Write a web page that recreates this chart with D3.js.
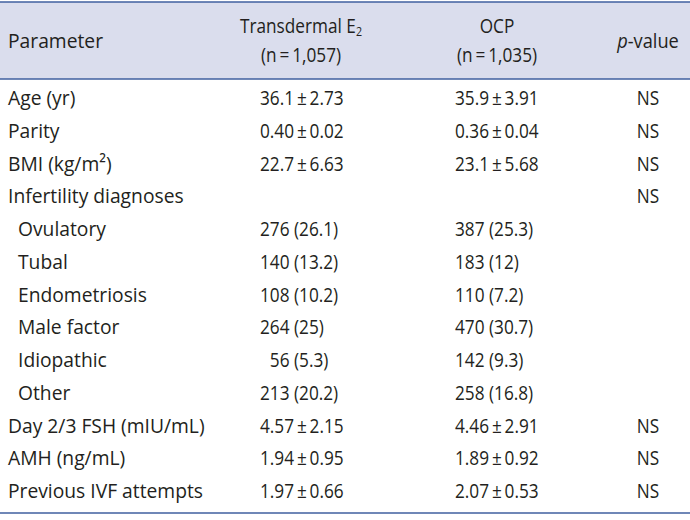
<!DOCTYPE html>
<html><head><meta charset="utf-8">
<script src="https://cdn.jsdelivr.net/npm/d3@7"></script>
<style>
html,body{margin:0;padding:0;background:#fff;}
svg text{font-family:"Open Sans","Noto Sans",sans-serif;fill:#231f20;}
</style></head>
<body><svg id="c" width="690" height="520"></svg>
<script>
const parameters = ["Age (yr)","Parity","BMI (kg/m²)","Infertility diagnoses","Ovulatory","Tubal","Endometriosis","Male factor","Idiopathic","Other","Day 2/3 FSH (mIU/mL)","AMH (ng/mL)","Previous IVF attempts"];
const indented = [false,false,false,false,true,true,true,true,true,true,false,false,false];
const transdermalE2 = ["36.1 ± 2.73","0.40 ± 0.02","22.7 ± 6.63","","276 (26.1)","140 (13.2)","108 (10.2)","264 (25)","\u200756 (5.3)","213 (20.2)","4.57 ± 2.15","1.94 ± 0.95","1.97 ± 0.66"];
const ocp = ["35.9 ± 3.91","0.36 ± 0.04","23.1 ± 5.68","","387 (25.3)","183 (12)","110 (7.2)","470 (30.7)","142 (9.3)","258 (16.8)","4.46 ± 2.91","1.89 ± 0.92","2.07 ± 0.53"];
const pValues = ["NS","NS","NS","NS","","","","","","","NS","NS","NS"];

const svg = d3.select("#c");
const W = 690;
const FS = 20.5, SXL = 0.94, SXV = 0.84;
const thin = s => s.replace(/ ± /g,"\u2009±\u2009");
const place = (sel, x, y, sx) => sel.attr("transform", `translate(${x},${y}) scale(${sx},1)`);

// header
svg.append("rect").attr("x",0).attr("y",2).attr("width",W).attr("height",77).attr("fill","#dadded");
svg.append("line").attr("x1",0).attr("x2",W).attr("y1",2).attr("y2",2).attr("stroke","#3f5f9f").attr("stroke-width",1.5);
svg.append("line").attr("x1",0).attr("x2",W).attr("y1",79).attr("y2",79).attr("stroke","#3f5f9f").attr("stroke-width",1.5);
svg.append("line").attr("x1",0).attr("x2",W).attr("y1",513).attr("y2",513).attr("stroke","#3f5f9f").attr("stroke-width",1.5);

const hdr = svg.append("g").attr("font-size",FS);
place(hdr.append("text"),8,48,SXL).text("Parameter");
const t1 = place(hdr.append("text"),301,33,SXV).attr("text-anchor","middle");
t1.append("tspan").text("Transdermal E");
t1.append("tspan").attr("font-size",FS*0.62).attr("dy",3).text("2");
place(hdr.append("text"),301,62,SXV).attr("text-anchor","middle").text("(n\u2009=\u20091,057)");
place(hdr.append("text"),497,33,SXV).attr("text-anchor","middle").text("OCP");
place(hdr.append("text"),497,62,SXV).attr("text-anchor","middle").text("(n\u2009=\u20091,035)");
const pv = place(hdr.append("text"),648,48,SXV+0.05).attr("text-anchor","middle");
pv.append("tspan").attr("font-style","italic").text("p");
pv.append("tspan").text("-value");

const y = d3.scalePoint().domain(d3.range(parameters.length)).range([98,491]);
const body = svg.append("g").attr("font-size",FS);
const rows = body.selectAll("g.row").data(parameters).join("g").attr("class","row")
  .attr("transform",(d,i)=>`translate(0,${y(i)+7})`);
rows.append("text").attr("transform",(d,i)=>`translate(${indented[i]?18:8},0) scale(${SXL},1)`).text(d=>d);
rows.append("text").attr("transform",`translate(260,0) scale(${SXV},1)`).text((d,i)=>thin(transdermalE2[i]));
rows.append("text").attr("transform",`translate(455,0) scale(${SXV},1)`).text((d,i)=>thin(ocp[i]));
rows.append("text").attr("transform",`translate(648,0) scale(${SXV},1)`).attr("text-anchor","middle").text((d,i)=>pValues[i]);
</script></body></html>
